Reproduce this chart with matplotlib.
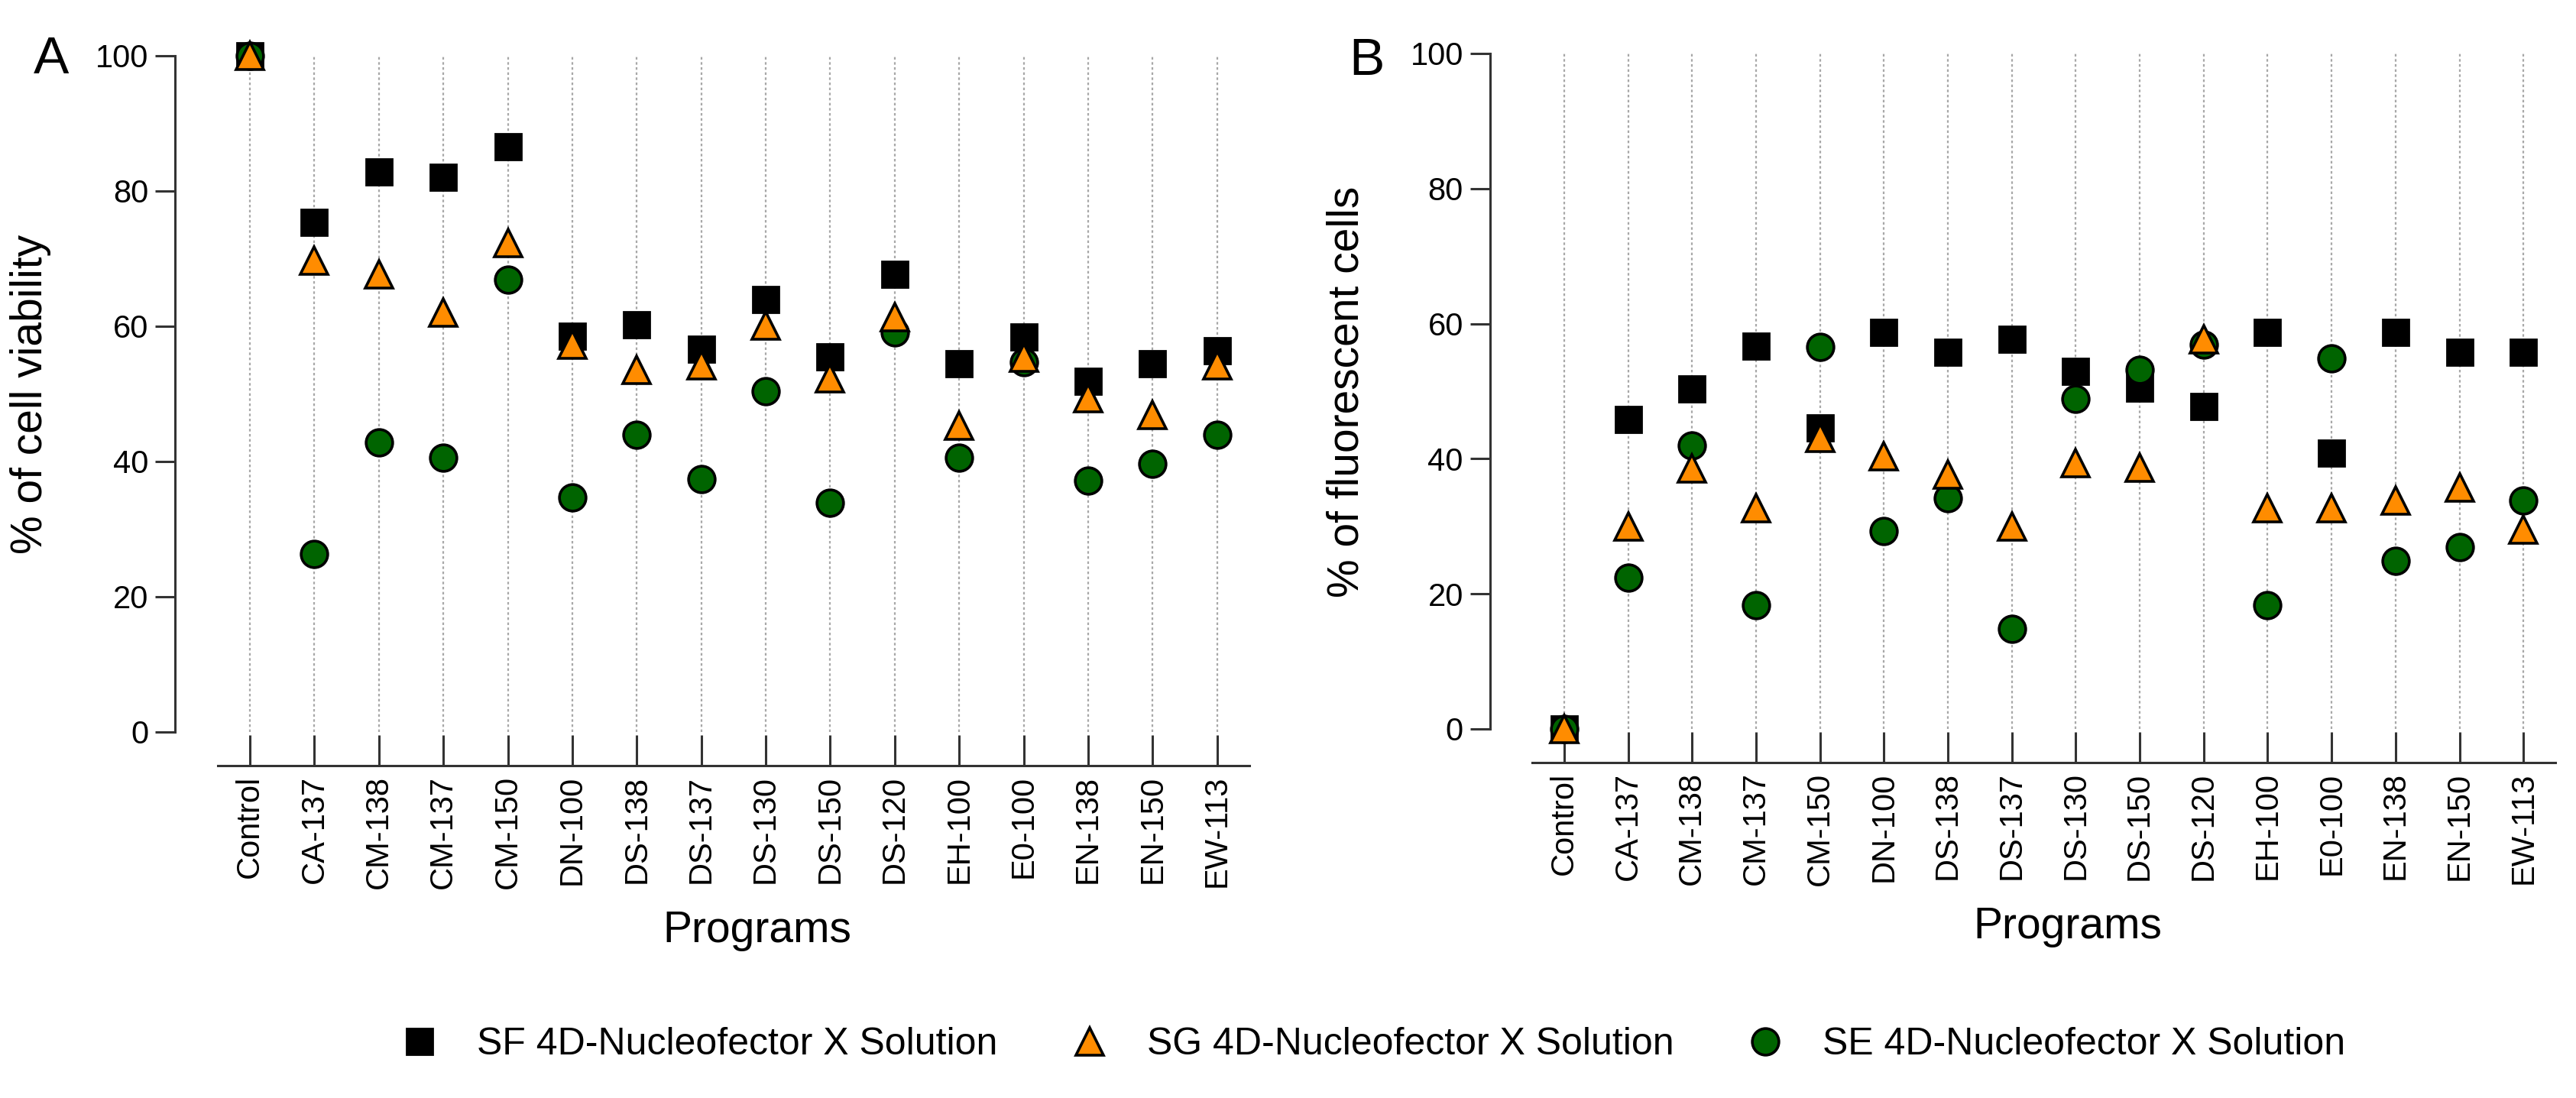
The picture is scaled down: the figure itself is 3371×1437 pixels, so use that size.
import numpy as np
import matplotlib
matplotlib.use('Agg')
import matplotlib.pyplot as plt
from matplotlib.lines import Line2D

plt.rcParams['font.family'] = ['Liberation Sans', 'DejaVu Sans']

# programs on the x axis
programs = ['Control', 'CA-137', 'CM-138', 'CM-137', 'CM-150', 'DN-100', 'DS-138', 'DS-137',
            'DS-130', 'DS-150', 'DS-120', 'EH-100', 'E0-100', 'EN-138', 'EN-150', 'EW-113']

# panel A: % of cell viability
viab_sf = [100, 75.4, 82.8, 82.0, 86.6, 58.5, 60.2, 56.6, 64.0, 55.5, 67.7, 54.5, 58.4, 51.8, 54.5, 56.4]
viab_sg = [100, 69.7, 67.7, 62.0, 72.3, 57.3, 53.5, 54.2, 60.1, 52.3, 61.3, 45.3, 55.3, 49.4, 46.9, 54.2]
viab_se = [100, 26.3, 42.8, 40.5, 66.9, 34.7, 43.9, 37.4, 50.4, 33.9, 59.1, 40.5, 54.7, 37.2, 39.6, 43.9]

# panel B: % of fluorescent cells
fluo_sf = [0, 45.8, 50.3, 56.7, 44.6, 58.7, 55.8, 57.7, 52.9, 50.4, 47.7, 58.7, 40.8, 58.7, 55.8, 55.8]
fluo_sg = [0, 30.0, 38.6, 32.7, 43.1, 40.4, 37.7, 30.0, 39.3, 38.7, 57.7, 32.7, 32.7, 33.8, 35.7, 29.5]
fluo_se = [0, 22.4, 41.9, 18.3, 56.5, 29.3, 34.2, 14.8, 48.8, 53.1, 56.9, 18.3, 54.8, 24.9, 26.9, 33.8]

labels = ['SF 4D-Nucleofector X Solution', 'SG 4D-Nucleofector X Solution', 'SE 4D-Nucleofector X Solution']
orange = '#FF8C00'
green = '#006400'

fig = plt.figure(figsize=(33.71, 14.37), dpi=100)
ax_a = fig.add_axes([0.0845, 0.3027, 0.4005, 0.6465])
ax_b = fig.add_axes([0.5948, 0.3055, 0.3972, 0.6458])

x = np.arange(len(programs))


def draw_panel(ax, sf, sg, se, ylabel):
    ax.vlines(x, 0, 100, colors='#a8a8a8', linestyles=(0, (1.5, 1.5)), linewidth=1.6, zorder=1)
    ax.plot(x, sf, 's', ms=24, mfc='black', mec='black', mew=2, clip_on=False, zorder=3)
    ax.plot(x, se, 'o', ms=25, mfc=green, mec='black', mew=2.6, clip_on=False, zorder=4)
    ax.plot(x, sg, '^', ms=26, mfc=orange, mec='black', mew=2.6, clip_on=False, zorder=5)

    ax.set_xlim(-0.5, len(programs) - 0.5)
    ax.set_ylim(-5, 100)
    ax.set_yticks([0, 20, 40, 60, 80, 100])
    ax.set_xticks(x)
    ax.set_xticklabels(programs, rotation=90, fontsize=30)
    ax.tick_params(axis='y', labelsize=30, length=19, width=2.2, direction='out', pad=6, color='#333333')
    ax.tick_params(axis='x', length=29, width=2.2, direction='in', pad=9, color='#333333')

    for s in ['top', 'right']:
        ax.spines[s].set_visible(False)
    ax.spines['left'].set_position(('outward', 40))
    ax.spines['left'].set_bounds(0, 100)
    ax.spines['left'].set_linewidth(2.2)
    ax.spines['bottom'].set_linewidth(2.2)
    ax.spines['left'].set_color('#333333')
    ax.spines['bottom'].set_color('#333333')

    ax.set_ylabel(ylabel, fontsize=41)
    ax.yaxis.set_label_coords(-0.161, 0.523)
    ax.set_xlabel('Programs', fontsize=41)
    ax.xaxis.label.set_va('center')
    ax.xaxis.set_label_coords(0.523, -0.232)


draw_panel(ax_a, viab_sf, viab_sg, viab_se, '% of cell viability')
draw_panel(ax_b, fluo_sf, fluo_sg, fluo_se, '% of fluorescent cells')

fig.text(0.0199, 0.9457, 'A', fontsize=50, ha='center', va='center')
fig.text(0.5304, 0.944, 'B', fontsize=50, ha='center', va='center')

handles = [
    Line2D([], [], ls='', marker='s', ms=24, mfc='black', mec='black', mew=2),
    Line2D([], [], ls='', marker='^', ms=26, mfc=orange, mec='black', mew=2.6),
    Line2D([], [], ls='', marker='o', ms=25, mfc=green, mec='black', mew=2.6),
]
fig.legend(handles, labels, loc='center', bbox_to_anchor=(0.533, 0.0487), ncol=3, frameon=False,
           fontsize=36, handletextpad=1.0, columnspacing=1.9, handlelength=1.0)

fig.savefig('out.png', dpi=100)
